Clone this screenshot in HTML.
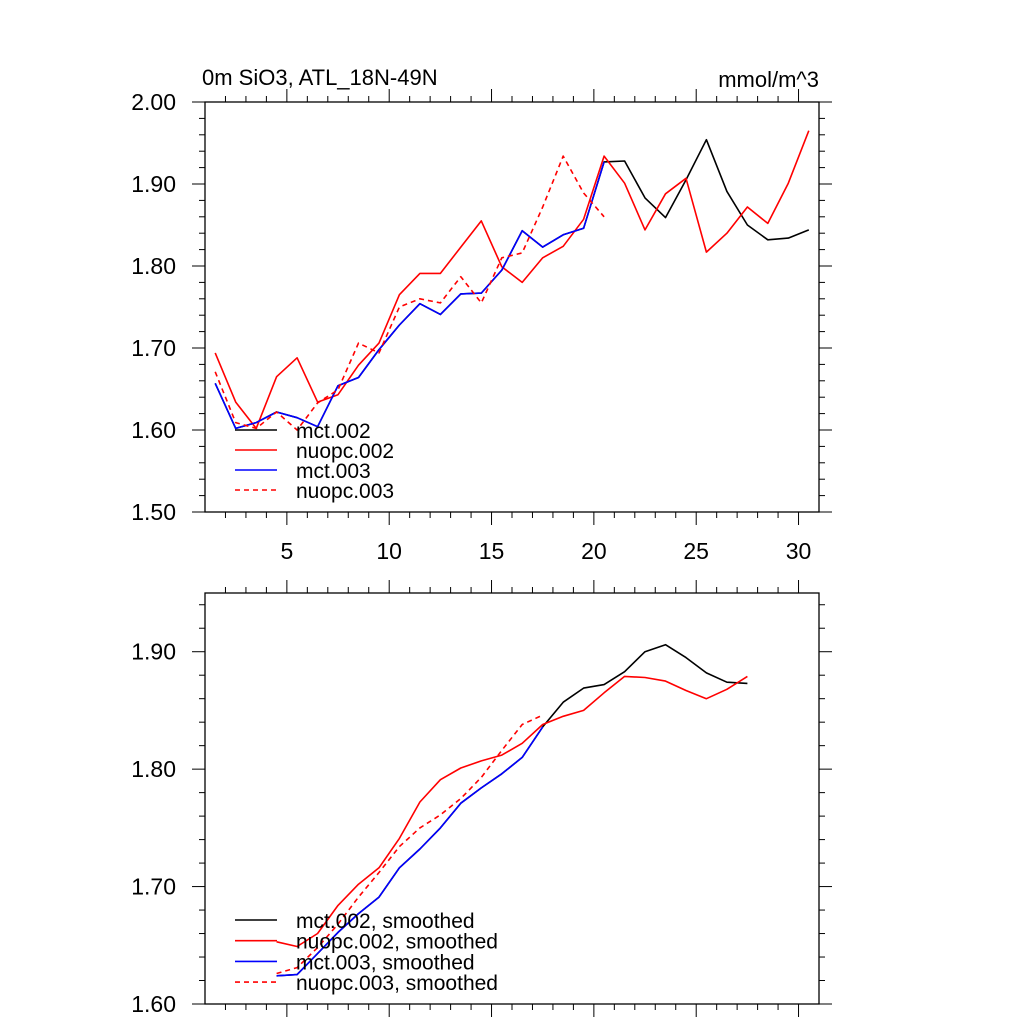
<!DOCTYPE html>
<html><head><meta charset="utf-8"><style>
html,body{margin:0;padding:0;background:#fff;}
svg{display:block;font-family:"Liberation Sans",Arial,sans-serif;}
</style></head><body>
<svg id="chart" width="1024" height="1024" viewBox="0 0 1024 1024" xmlns="http://www.w3.org/2000/svg"></svg>
<script>
// ---- data ----
const xStart = 1.5;
const xTickLabels = [5, 10, 15, 20, 25, 30];
const topYTicks = [1.50, 1.60, 1.70, 1.80, 1.90, 2.00];
const botYTicks = [1.60, 1.70, 1.80, 1.90];
const mct002 = [1.657,1.602,1.609,1.622,1.615,1.604,1.654,1.664,1.698,1.728,1.754,1.741,1.766,1.767,1.795,1.843,1.823,1.838,1.846,1.927,1.928,1.883,1.859,1.905,1.954,1.891,1.850,1.832,1.834,1.844];
const nuopc002 = [1.694,1.634,1.602,1.665,1.688,1.634,1.643,1.679,1.706,1.765,1.791,1.791,1.823,1.855,1.799,1.780,1.810,1.824,1.857,1.934,1.901,1.844,1.888,1.907,1.817,1.840,1.872,1.852,1.901,1.965];
const mct003 = [1.657,1.602,1.609,1.622,1.615,1.604,1.654,1.664,1.698,1.728,1.754,1.741,1.766,1.767,1.795,1.843,1.823,1.838,1.846,1.927];
const nuopc003 = [1.671,1.609,1.602,1.622,1.600,1.633,1.649,1.706,1.694,1.750,1.760,1.755,1.787,1.755,1.810,1.816,1.872,1.934,1.889,1.860];
const smStart = 4.5;
const mct002s = [1.624,1.625,1.643,1.661,1.677,1.691,1.716,1.732,1.750,1.771,1.784,1.796,1.810,1.836,1.857,1.869,1.872,1.883,1.900,1.906,1.895,1.882,1.874,1.873];
const nuopc002s = [1.653,1.649,1.660,1.684,1.702,1.716,1.741,1.772,1.791,1.801,1.807,1.812,1.822,1.838,1.845,1.850,1.865,1.879,1.878,1.875,1.867,1.860,1.868,1.879];
const mct003s = [1.624,1.625,1.643,1.661,1.677,1.691,1.716,1.732,1.750,1.771,1.784,1.796,1.810,1.836];
const nuopc003s = [1.626,1.631,1.648,1.668,1.691,1.712,1.734,1.750,1.761,1.775,1.793,1.816,1.838,1.846];

const NS = "http://www.w3.org/2000/svg";
const svg = document.getElementById('chart');
function mk(tag, attrs, parent){
  const e = document.createElementNS(NS, tag);
  for (const k in attrs) e.setAttribute(k, attrs[k]);
  (parent||svg).appendChild(e);
  return e;
}
const L = 205, R = 819, XMIN = 1, XMAX = 31;
const sx = v => L + (v - XMIN) / (XMAX - XMIN) * (R - L);

function panel(name, top, bottom, ymin, ymax, yTicks, showXLabels){
  const g = mk('g', {});
  
  
  const sy = v => bottom - (v - ymin) / (ymax - ymin) * (bottom - top);
  const frame = mk('rect', {x:L, y:top, width:R-L, height:bottom-top, fill:'none', stroke:'#000', 'stroke-width':1.3}, g);
  
  
  for (let v = XMIN + 1; v < XMAX; v++) {
    const major = v % 5 === 0;
    const len = major ? 13 : 6;
    const x = sx(v);
    mk('line', {x1:x, x2:x, y1:bottom, y2:bottom+len, stroke:'#000', 'stroke-width':1}, g);
    mk('line', {x1:x, x2:x, y1:top, y2:top-len, stroke:'#000', 'stroke-width':1}, g);
  }
  if (showXLabels) {
    xTickLabels.forEach(v => {
      const t = mk('text', {x:sx(v), y:bottom+47, 'font-size':23, 'text-anchor':'middle'}, g);
      t.textContent = v;
      
      
    });
  }
  const steps = Math.round((ymax - ymin) / 0.02);
  for (let i = 0; i <= steps; i++) {
    const v = ymin + i * 0.02;
    const major = (i % 5) === 0;
    const len = major ? 13 : 6;
    const y = sy(v);
    mk('line', {x1:L, x2:L-len, y1:y, y2:y, stroke:'#000', 'stroke-width':1}, g);
    mk('line', {x1:R, x2:R+len, y1:y, y2:y, stroke:'#000', 'stroke-width':1}, g);
  }
  yTicks.forEach(v => {
    const t = mk('text', {x:176, y:sy(v)+8, 'font-size':23, 'text-anchor':'end'}, g);
    t.textContent = v.toFixed(2);
    
    
  });
  return {g, sy};
}

function series(p, name, arr, start, color, dash){
  const pts = arr.map((v,i) => sx(start + i).toFixed(1) + ',' + p.sy(v).toFixed(1)).join(' ');
  const pl = mk('polyline', {points:pts, fill:'none', stroke:color, 'stroke-width':1.6, 'stroke-linejoin':'round'}, p.g);
  if (dash) pl.setAttribute('stroke-dasharray', '5,4');
  
  
}

function legend(p, name, items, y0, dy){
  const g = mk('g', {}, p.g);
  
  
  items.forEach((it, i) => {
    const y = y0 + i * dy;
    const ln = mk('line', {x1:235, x2:277, y1:y, y2:y, stroke:it[1], 'stroke-width':1.6}, g);
    if (it[2]) ln.setAttribute('stroke-dasharray', '5,4');
    const t = mk('text', {x:296, y:y+8, 'font-size':21}, g);
    t.textContent = it[0];
    
    
  });
}

const p1 = panel('top-plot', 102, 512, 1.5, 2.0, topYTicks, true);
series(p1, 'line-mct002', mct002, xStart, '#000', false);
series(p1, 'line-nuopc002', nuopc002, xStart, '#f00', false);
series(p1, 'line-mct003', mct003, xStart, '#00f', false);
series(p1, 'line-nuopc003', nuopc003, xStart, '#f00', true);
legend(p1, 'top-legend', [['mct.002','#000',false],['nuopc.002','#f00',false],['mct.003','#00f',false],['nuopc.003','#f00',true]], 430, 20);

const title = mk('text', {x:202, y:85, 'font-size':22});
title.textContent = '0m SiO3, ATL_18N-49N';


const units = mk('text', {x:819, y:87, 'font-size':22, 'text-anchor':'end'});
units.textContent = 'mmol/m^3';



const p2 = panel('bottom-plot', 593, 1004, 1.6, 1.95, botYTicks, false);
series(p2, 'line-mct002-smoothed', mct002s, smStart, '#000', false);
series(p2, 'line-nuopc002-smoothed', nuopc002s, smStart, '#f00', false);
series(p2, 'line-mct003-smoothed', mct003s, smStart, '#00f', false);
series(p2, 'line-nuopc003-smoothed', nuopc003s, smStart, '#f00', true);
legend(p2, 'bottom-legend', [['mct.002, smoothed','#000',false],['nuopc.002, smoothed','#f00',false],['mct.003, smoothed','#00f',false],['nuopc.003, smoothed','#f00',true]], 920, 20.7);
</script>
</body></html>
